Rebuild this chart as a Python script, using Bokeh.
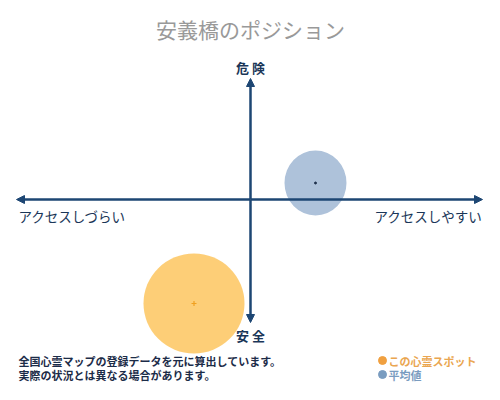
from bokeh.plotting import figure
from bokeh.models import Range1d, Arrow, NormalHead
from bokeh.core.properties import value
from bokeh.embed import file_html
from bokeh.resources import INLINE

# ---- data ----
title_text = "安義橋のポジション"
axis_top = "危 険"
axis_bottom = "安 全"
axis_left = "アクセスしづらい"
axis_right = "アクセスしやすい"
note_lines = ["全国心霊マップの登録データを元に算出しています。",
              "実際の状況とは異なる場合があります。"]
legend_labels = ["この心霊スポット", "平均値"]

spot_x = [-0.565]
spot_y = [-1.04]
spot_w = [1.01]
spot_h = [1.00]

avg_x = [0.65]
avg_y = [0.165]
avg_w = [0.62]
avg_h = [0.65]

x_extent = [-2.34, 2.32]
y_extent = [-1.23, 1.21]

FONT = value("Noto Sans CJK JP")
NAVY = "#1d4673"
ORANGE = "#fdcb70"
BLUE = "#aabfd8"

p = figure(width=484, height=384, output_backend="svg", toolbar_location=None,
           x_range=Range1d(-2.50, 2.34), y_range=Range1d(-1.85, 1.99),
           min_border=0, background_fill_color="white", border_fill_color="white")
p.axis.visible = False
p.grid.visible = False
p.outline_line_color = None

# bubbles
p.ellipse(x=avg_x, y=avg_y, width=avg_w, height=avg_h, fill_color=BLUE,
          line_color=None, fill_alpha=0.95)
p.ellipse(x=spot_x, y=spot_y, width=spot_w, height=spot_h, fill_color=ORANGE,
          line_color=None, fill_alpha=0.95)
p.scatter(x=avg_x, y=avg_y, size=2, color="#1d2f4a")
p.scatter(x=spot_x, y=spot_y, marker="cross", size=5, color="#f0a020", line_width=1.2)

# axes arrows
for (x0, y0, x1, y1) in [(0, 0, x_extent[0], 0), (0, 0, x_extent[1], 0),
                         (0, 0, 0, y_extent[0]), (0, 0, 0, y_extent[1])]:
    p.add_layout(Arrow(end=NormalHead(size=8, fill_color=NAVY, line_color=NAVY),
                       x_start=x0, y_start=y0, x_end=x1, y_end=y1,
                       line_color=NAVY, line_width=2.5))

# title
p.text(x=[0], y=[1.71], text=[title_text], text_font=FONT, text_font_size="21px",
       text_color="#999999", text_align="center", text_baseline="middle")

# axis labels
p.text(x=[0], y=[1.32], text=[axis_top], text_font=FONT, text_font_size="13px",
       text_font_style="bold", text_color="#1a3658", text_align="center",
       text_baseline="middle")
p.text(x=[0], y=[-1.36], text=[axis_bottom], text_font=FONT, text_font_size="13px",
       text_font_style="bold", text_color="#1a3658", text_align="center",
       text_baseline="middle")
p.text(x=[-2.32], y=[-0.165], text=[axis_left], text_font=FONT, text_font_size="13.5px",
       text_color="#1a3658", text_align="left", text_baseline="middle")
p.text(x=[2.32], y=[-0.165], text=[axis_right], text_font=FONT, text_font_size="13.5px",
       text_color="#1a3658", text_align="right", text_baseline="middle")

# notes
p.text(x=[-2.32, -2.32], y=[-1.61, -1.75], text=note_lines, text_font=FONT,
       text_font_size="11px", text_font_style="bold", text_color="#1c2c48",
       text_align="left", text_baseline="middle")

# legend
p.scatter(x=[1.32, 1.32], y=[-1.61, -1.75], size=8,
          color=["#f0a040", "#7a9cc0"])
p.text(x=[1.38, 1.38], y=[-1.61, -1.75], text=legend_labels, text_font=FONT,
       text_font_size="11px", text_font_style="bold",
       text_color=["#eaa650", "#7a9cc0"], text_align="left", text_baseline="middle")

open("out.html", "w").write(file_html(p, INLINE))
